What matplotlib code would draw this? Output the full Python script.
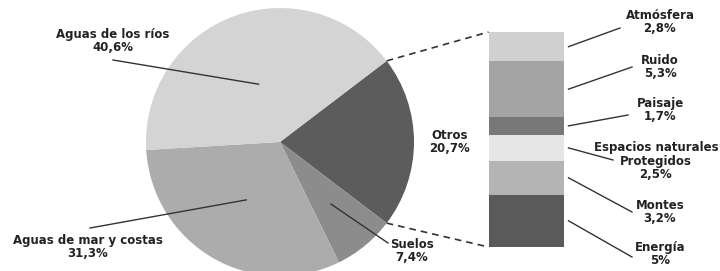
import numpy as np
import matplotlib
matplotlib.use("Agg")
import matplotlib.pyplot as plt

# ---- data ----
pie_labels = ["Otros", "Suelos", "Aguas de mar y costas", "Aguas de los ríos"]
pie_values = [20.7, 7.4, 31.3, 40.6]
pie_colors = ["#5c5c5c", "#8c8c8c", "#acacac", "#d4d4d4"]

bar_labels = ["Atmósfera", "Ruido", "Paisaje", "Espacios naturales\nProtegidos", "Montes", "Energía"]
bar_values = [2.8, 5.3, 1.7, 2.5, 3.2, 5.0]
bar_texts = ["2,8%", "5,3%", "1,7%", "2,5%", "3,2%", "5%"]
bar_colors = ["#d0d0d0", "#a4a4a4", "#787878", "#e6e6e6", "#b4b4b4", "#5a5a5a"]

pie_texts = ["20,7%", "7,4%", "31,3%", "40,6%"]

W, H = 720, 271
plt.rcParams['font.family'] = ['Liberation Sans Narrow', 'DejaVu Sans']
fig = plt.figure(figsize=(W / 100, H / 100), dpi=100)
ax = fig.add_axes([0, 0, 1, 1])

def Y(ypx):
    return H - ypx

# ---- pie ----
cx, cy, R = 280, Y(142), 134
start = pie_values[0] / 100 * 360 / 2
wedges, _ = ax.pie(pie_values, colors=pie_colors, startangle=start, counterclock=False,
                   center=(cx, cy), radius=R, frame=True,
                   wedgeprops=dict(linewidth=0))

# angles of wedges
bounds = [start]
for v in pie_values:
    bounds.append(bounds[-1] - v / 100 * 360)
mids = [(bounds[i] + bounds[i + 1]) / 2 for i in range(len(pie_values))]

def pt(angle, frac):
    a = np.deg2rad(angle)
    return cx + frac * R * np.cos(a), cy + frac * R * np.sin(a)

# ---- stacked bar ----
bx, bw = 526, 75
top, bottom = Y(32), Y(247)
scale = (top - bottom) / sum(bar_values)
cum = top
seg_mid = []
for v, c in zip(bar_values, bar_colors):
    h = v * scale
    ax.bar(bx, h, width=bw, bottom=cum - h, color=c, linewidth=0)
    seg_mid.append(cum - h / 2)
    cum -= h

# dashed connectors
p1 = pt(bounds[0], 1.0)
p2 = pt(bounds[1], 1.0)
ax.plot([p1[0], bx - bw / 2], [p1[1], top], ls=(0, (4, 3)), color="#333333", lw=1.2)
ax.plot([p2[0], bx - bw / 2], [p2[1], bottom], ls=(0, (4, 3)), color="#333333", lw=1.2)

fs = 8.5
tkw = dict(fontsize=fs, fontweight='bold', ha='center', va='center', color='#222222',
           linespacing=1.05)

# pie labels
ax.text(450, Y(142), pie_labels[0] + "\n" + pie_texts[0], **tkw)

# Suelos
s0 = pt(mids[1], 0.6)
ax.plot([s0[0], 388], [s0[1], Y(243)], color="#333333", lw=1)
ax.text(412, Y(251), pie_labels[1] + "\n" + pie_texts[1], **tkw)

# Aguas de mar
m0 = pt(mids[2], 0.5)
ax.plot([m0[0], 90], [m0[1], Y(228)], color="#333333", lw=1)
ax.text(88, Y(247), pie_labels[2] + "\n" + pie_texts[2], **tkw)

# Aguas de los rios
r0 = pt(mids[3], 0.46)
ax.plot([r0[0], 113], [r0[1], Y(60)], color="#333333", lw=1)
ax.text(113, Y(41), pie_labels[3] + "\n" + pie_texts[3], **tkw)

# bar labels
label_pos = [(660, 22), (660, 67), (660, 110), (656, 161), (660, 212), (660, 254)]
line_end = [(620, 28), (632, 67), (628, 115), (613, 160), (632, 212), (632, 257)]
for i, (lab, t) in enumerate(zip(bar_labels, bar_texts)):
    xs = bx + bw / 2 + 5
    ax.plot([xs, line_end[i][0]], [seg_mid[i], Y(line_end[i][1])], color="#333333", lw=1)
    ax.text(label_pos[i][0], Y(label_pos[i][1]), lab + "\n" + t, **tkw)

ax.set_xlim(0, W)
ax.set_ylim(0, H)
ax.set_aspect('auto')
ax.axis('off')
fig.savefig("out.png", dpi=100)
